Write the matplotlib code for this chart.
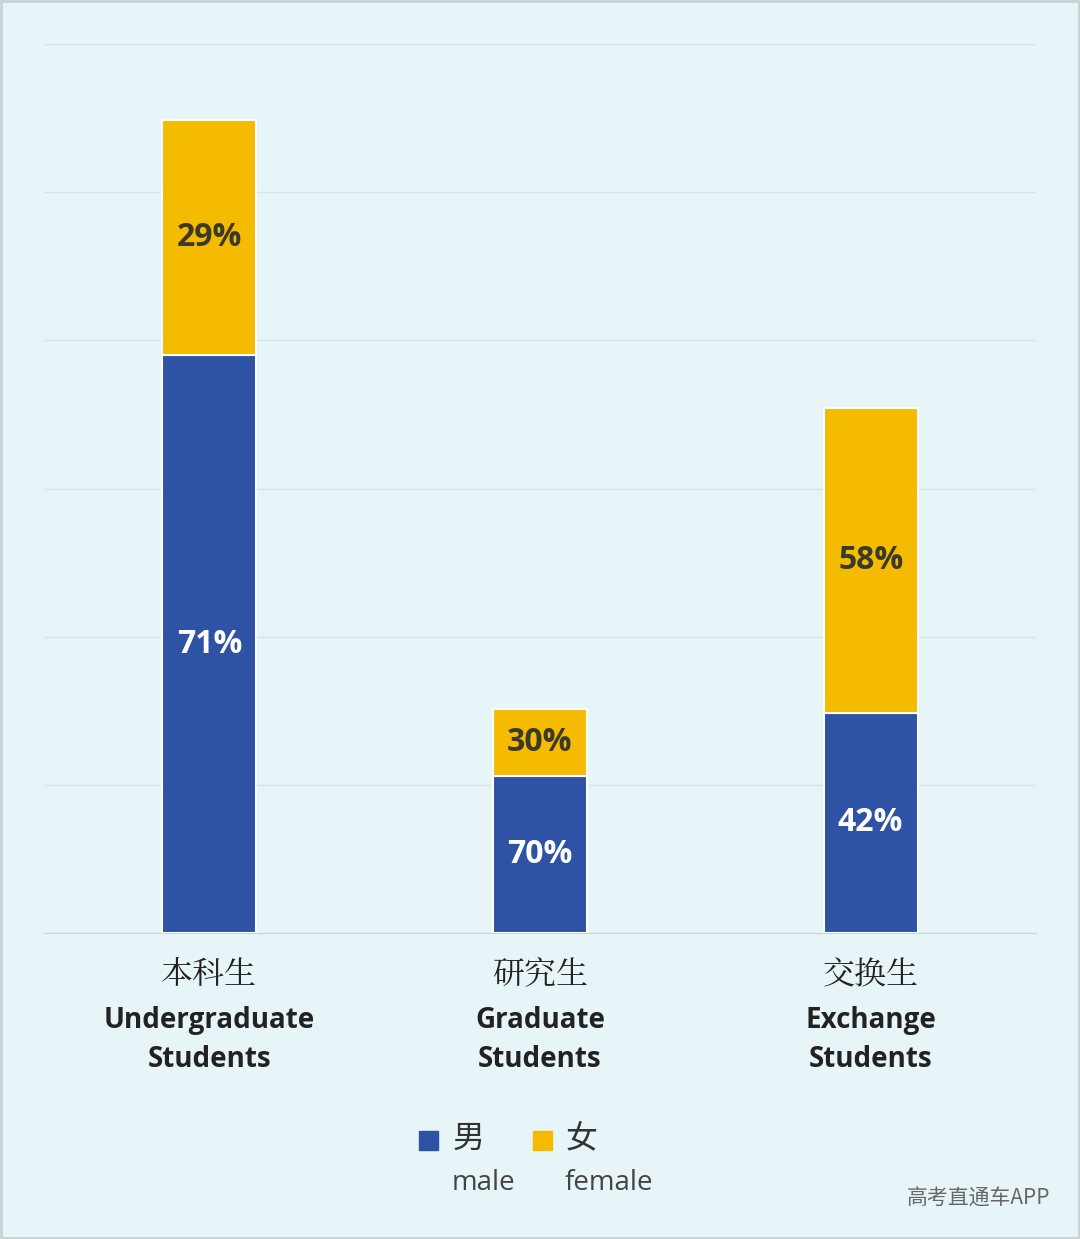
import matplotlib
matplotlib.use("Agg")
import matplotlib.pyplot as plt
from matplotlib.patches import Rectangle

plt.rcParams['font.family'] = ['Noto Sans CJK SC', 'DejaVu Sans']

cat_cn = ["本科生", "研究生", "交换生"]
cat_en = ["Undergraduate\nStudents", "Graduate\nStudents", "Exchange\nStudents"]
totals = [5.49, 1.51, 3.54]
male_pct = [71, 70, 42]
female_pct = [29, 30, 58]

bg = "#E7F5F8"
blue = "#2E53A4"
gold = "#F5BB00"

fig = plt.figure(figsize=(10.8, 12.39), dpi=100, facecolor=bg)
ax = fig.add_axes([44/1080, 1-933/1239, 992/1080, 889/1239], facecolor=bg)
x = list(range(len(cat_cn)))
male = [t*m/100 for t, m in zip(totals, male_pct)]
female = [t*f/100 for t, f in zip(totals, female_pct)]
w = 0.284
ax.bar(x, male, width=w, color=blue, edgecolor="white", linewidth=1.5, zorder=3)
ax.bar(x, female, bottom=male, width=w, color=gold, edgecolor="white", linewidth=1.5, zorder=3)
for i in x:
    ax.text(i, male[i]/2, f"{male_pct[i]}%", ha="center", va="center", color="white",
            fontsize=23, fontweight="bold", family=["Open Sans", "DejaVu Sans"], zorder=4)
    ax.text(i, male[i]+female[i]/2, f"{female_pct[i]}%", ha="center", va="center", color="#3a3a2a",
            fontsize=23, fontweight="bold", family=["Open Sans", "DejaVu Sans"], zorder=4)
ax.set_xlim(-0.5, 2.5)
ax.set_ylim(0, 6)
ax.set_yticks(range(7))
ax.yaxis.grid(True, color="#D5E5E8", linewidth=1)
ax.set_axisbelow(True)
ax.tick_params(left=False, bottom=False, labelleft=False, labelbottom=False)
for s in ["left", "right", "top"]:
    ax.spines[s].set_visible(False)
ax.spines["bottom"].set_color("#C8D6D9")

for i in x:
    xf = (44 + (i+0.5)*330.7)/1080
    fig.text(xf, 1-975/1239, cat_cn[i], ha="center", va="center", fontsize=23,
             family=["Noto Serif CJK SC", "Noto Sans CJK SC"], color="#222222")
    fig.text(xf, 1-1040/1239, cat_en[i], ha="center", va="center", fontsize=20,
             fontweight="bold", family=["Open Sans", "DejaVu Sans"], color="#222222", linespacing=1.45)

# legend
fig.patches.append(Rectangle((419/1080, 1-1150/1239), 19/1080, 19/1239, transform=fig.transFigure, color=blue))
fig.patches.append(Rectangle((533/1080, 1-1150/1239), 19/1080, 19/1239, transform=fig.transFigure, color=gold))
fig.text(453/1080, 1-1139/1239, "男", fontsize=23, va="center", color="#333333")
fig.text(566/1080, 1-1139/1239, "女", fontsize=23, va="center", color="#333333")
fig.text(452/1080, 1-1183/1239, "male", fontsize=20, va="center", color="#444444", family=["Open Sans", "DejaVu Sans"])
fig.text(565/1080, 1-1183/1239, "female", fontsize=20, va="center", color="#444444", family=["Open Sans", "DejaVu Sans"])
fig.text(1050/1080, 1-1199/1239, "高考直通车APP", fontsize=15, ha="right", va="center", color="#666666")

fig.patches.append(Rectangle((0.001, 0.001), 0.998, 0.998, transform=fig.transFigure, fill=False, edgecolor="#C9D3D6", linewidth=2))
fig.savefig("out.png", dpi=100, facecolor=bg)
